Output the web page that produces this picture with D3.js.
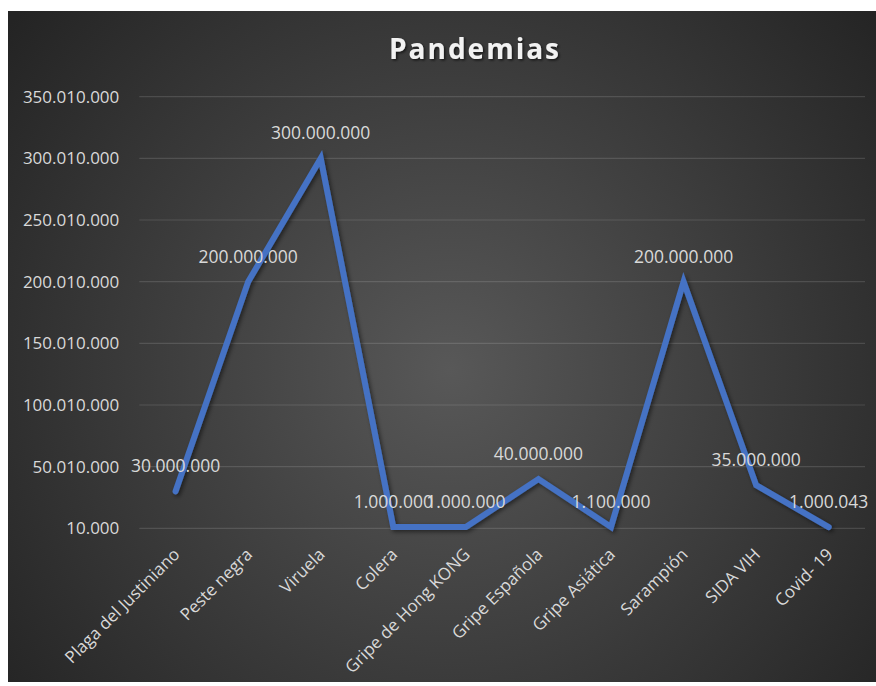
<!DOCTYPE html>
<html><head><meta charset="utf-8">
<script src="https://cdn.jsdelivr.net/npm/d3@7"></script>
<style>html,body{margin:0;padding:0;background:#fff;}svg{display:block;}</style>
</head><body>
<svg id="c" width="876" height="686"></svg>
<script>
const categories = ["Plaga del Justiniano","Peste negra","Viruela","Colera","Gripe de Hong KONG","Gripe Española","Gripe Asiática","Sarampión","SIDA VIH","Covid- 19"];
const deaths = [30000000,200000000,300000000,1000000,1000000,40000000,1100000,200000000,35000000,1000043];
const yTicks = [10000,50010000,100010000,150010000,200010000,250010000,300010000,350010000];
const title = "Pandemias";

const svg = d3.select("#c");
const bg = {x0:8, y0:11, x1:876, y1:682};
const plot = {left:139.3, right:865, top:96.7, bottom:528.3};

const defs = svg.append("defs");
const rg = defs.append("radialGradient").attr("id","bgGrad")
  .attr("gradientUnits","userSpaceOnUse").attr("cx",450).attr("cy",370).attr("r",560);
rg.append("stop").attr("offset","0%").attr("stop-color","#585858");
rg.append("stop").attr("offset","100%").attr("stop-color","#242424");
const sh = defs.append("filter").attr("id","shadow").attr("x","-10%").attr("y","-10%").attr("width","120%").attr("height","120%");
sh.append("feDropShadow").attr("dx",2).attr("dy",2).attr("stdDeviation",2).attr("flood-color","#000").attr("flood-opacity",0.5);
const tsh = defs.append("filter").attr("id","tshadow");
tsh.append("feDropShadow").attr("dx",1.5).attr("dy",1.5).attr("stdDeviation",1.2).attr("flood-color","#000").attr("flood-opacity",0.6);

svg.append("rect").attr("x",bg.x0).attr("y",bg.y0).attr("width",bg.x1-bg.x0).attr("height",bg.y1-bg.y0).attr("fill","url(#bgGrad)");

const x = d3.scaleBand().domain(categories).range([plot.left, plot.right]);
const y = d3.scaleLinear().domain([10000, 350010000]).range([plot.bottom, plot.top]);
const fmt = v => d3.format(",")(v).replace(/,/g, ".");
const FONT = "'Open Sans', sans-serif";

// gridlines
svg.append("g").selectAll("line").data(yTicks).join("line")
  .attr("x1",plot.left).attr("x2",plot.right)
  .attr("y1",d=>y(d)).attr("y2",d=>y(d))
  .attr("stroke","rgba(255,255,255,0.13)").attr("stroke-width",1.2);

// y axis
const yAxis = svg.append("g").attr("transform",`translate(${plot.left},0)`)
  .call(d3.axisLeft(y).tickValues(yTicks).tickFormat(fmt).tickSize(0).tickPadding(20));
yAxis.select(".domain").remove();
yAxis.selectAll("text").attr("fill","#d9d9d9").attr("font-family",FONT).attr("font-size","17px");

// x axis
const xAxis = svg.append("g").attr("transform",`translate(0,${plot.bottom})`)
  .call(d3.axisBottom(x).tickSize(0));
xAxis.select(".domain").remove();
xAxis.selectAll("text")
  .attr("fill","#d9d9d9").attr("font-family",FONT).attr("font-size","17px")
  .attr("text-anchor","end").attr("dy","0.35em").attr("y",0)
  .attr("transform","translate(1,23) rotate(-45)");

// line
const line = d3.line().x((d,i)=>x(categories[i])+x.bandwidth()/2).y(d=>y(d));
svg.append("path").datum(deaths).attr("d",line)
  .attr("fill","none").attr("stroke","#4472c4").attr("stroke-width",6)
  .attr("stroke-linejoin","miter").attr("stroke-linecap","round").attr("filter","url(#shadow)");

// data labels
svg.append("g").selectAll("text").data(deaths).join("text")
  .attr("x",(d,i)=>x(categories[i])+x.bandwidth()/2)
  .attr("y",d=>y(d)-19)
  .attr("text-anchor","middle")
  .attr("fill","#d9d9d9").attr("font-family",FONT).attr("font-size","17.5px")
  .text(d=>fmt(d));

// title
svg.append("text").attr("x",475).attr("y",59).attr("text-anchor","middle")
  .attr("font-family",FONT).attr("font-weight","bold").attr("font-size","28px")
  .attr("letter-spacing","2px").attr("fill","#f2f2f2").attr("filter","url(#tshadow)")
  .text(title);
</script>
</body></html>
